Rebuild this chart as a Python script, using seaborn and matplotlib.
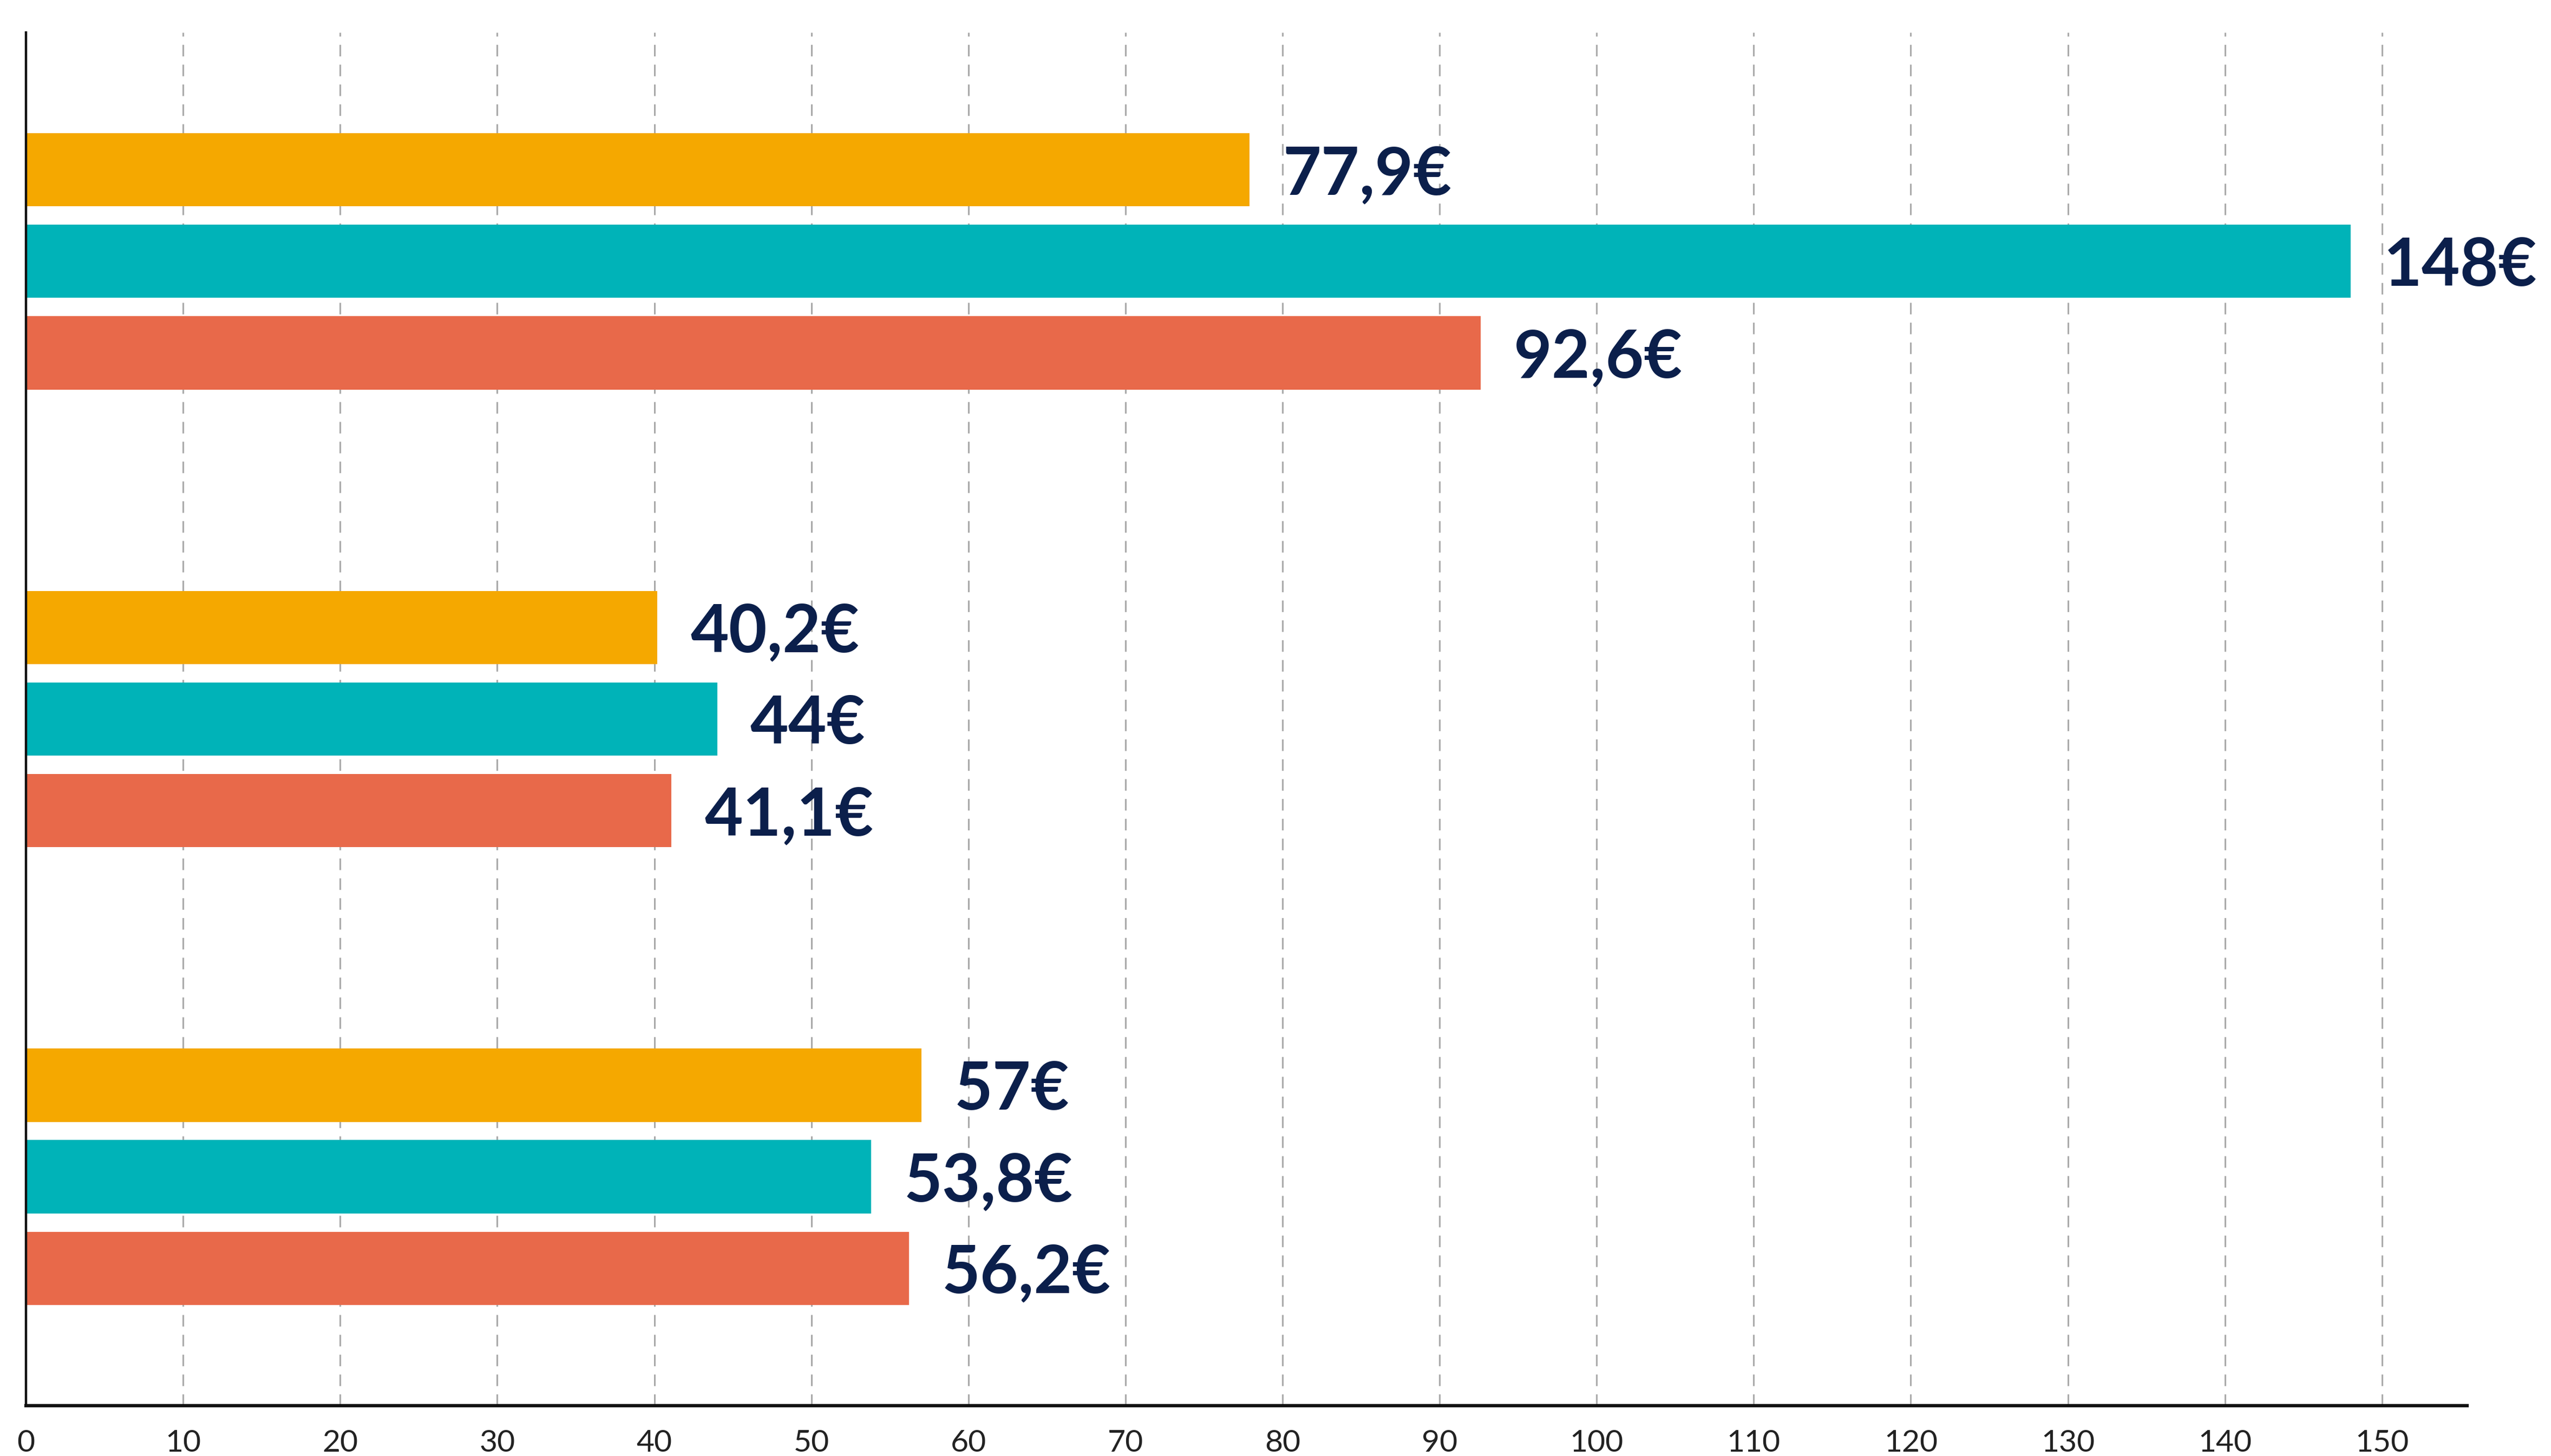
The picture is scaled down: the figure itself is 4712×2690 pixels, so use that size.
import pandas as pd
import matplotlib.pyplot as plt
import seaborn as sns

# chart values
groups = ["Groupe 1", "Groupe 2", "Groupe 3"]
series = ["Série 1", "Série 2", "Série 3"]
serie_1 = [77.9, 40.2, 57]
serie_2 = [148, 44, 53.8]
serie_3 = [92.6, 41.1, 56.2]
x_ticks = list(range(0, 160, 10))

colors = ["#F5A800", "#00B3B8", "#E8694A"]
navy = "#0B1F4B"

rows = []
for name, vals in zip(series, [serie_1, serie_2, serie_3]):
    for g, v in zip(groups, vals):
        rows.append({"group": g, "series": name, "value": v})
df = pd.DataFrame(rows)

sns.set_theme(style="white")
plt.rcParams['font.family'] = ['Lato', 'DejaVu Sans']

fig = plt.figure(figsize=(23.56, 13.45), dpi=200)
ax = fig.add_axes([0.0102, 0.0346, 0.9568, 0.9431])

sns.barplot(data=df, x="value", y="group", hue="series", palette=colors,
            orient="h", width=0.6, gap=0.2, linewidth=0, saturation=1,
            legend=False, ax=ax)

for cont in ax.containers:
    vals = [p.get_width() for p in cont]
    labels = [f"{v:g}".replace(".", ",") + "€" for v in vals]
    texts = ax.bar_label(cont, labels=labels, padding=22, fontsize=44,
                         fontweight="bold", color=navy)
    for t in texts:
        t.set_va("center_baseline")

ax.set_xlim(0, 155.4)
ax.set_ylim(2.5, -0.5)
ax.set_xticks(x_ticks)
ax.set_xticklabels([str(t) for t in x_ticks], fontsize=20.5, color="#222222")
ax.set_yticks([])
ax.set_xlabel("")
ax.set_ylabel("")
ax.tick_params(axis="x", length=0, pad=16)

ax.set_axisbelow(True)
ax.grid(axis="x", color="#AAAAAA", linestyle=(0, (7, 5)), linewidth=1.1)
ax.grid(axis="y", visible=False)

sns.despine(ax=ax, top=True, right=True)
ax.spines["left"].set_color("#111111")
ax.spines["left"].set_linewidth(1.6)
ax.spines["bottom"].set_color("#111111")
ax.spines["bottom"].set_linewidth(2.2)

plt.savefig("out.png", dpi=200)
